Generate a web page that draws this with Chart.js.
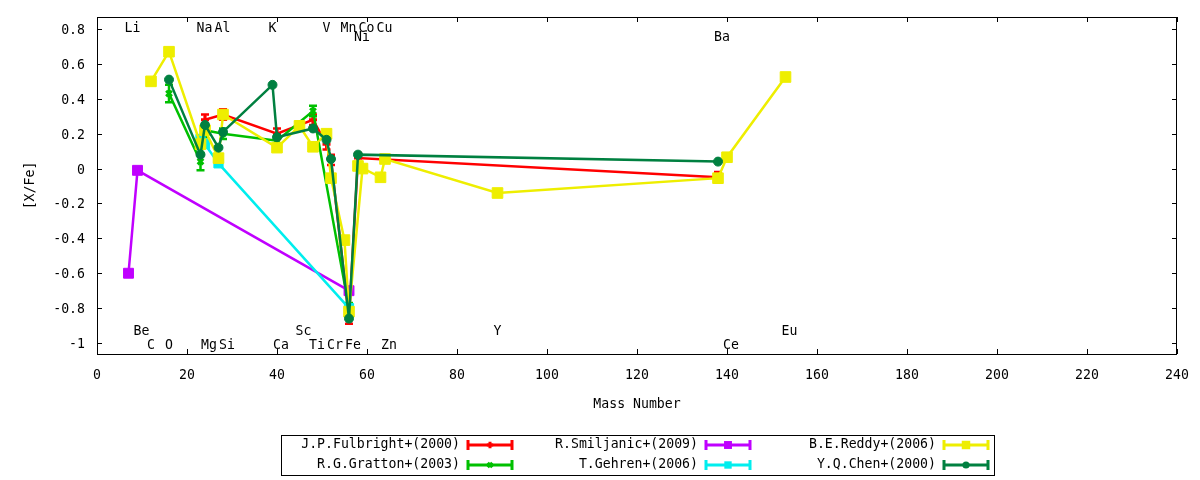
<!DOCTYPE html>
<html>
<head>
<meta charset="utf-8">
<script src="https://cdn.jsdelivr.net/npm/chart.js@4.4.0/dist/chart.umd.min.js"></script>
<style>
  html, body { margin: 0; padding: 0; background: #fff; }
  #wrap { width: 1200px; height: 480px; }
</style>
</head>
<body>
<div id="wrap"><canvas id="abundChart" width="1200" height="480"></canvas></div>
<script>
// Element labels (mass number of main isotope) and the label row they sit in
const elemNames = ['Li', 'Be', 'C', 'O', 'Na', 'Mg', 'Al', 'Si', 'K', 'Ca', 'Sc', 'Ti', 'V', 'Cr', 'Mn', 'Fe', 'Co', 'Ni', 'Cu', 'Zn', 'Y', 'Ba', 'Ce', 'Eu'];
const elemMass  = [7, 9, 12, 16, 23, 24, 27, 28, 39, 40, 45, 48, 51, 52, 55, 56, 59, 58, 63, 64, 89, 138, 140, 153];
const elemRow   = [0, 2, 3, 3, 0, 3, 0, 3, 0, 3, 2, 3, 0, 3, 0, 3, 0, 1, 0, 3, 2, 1, 3, 2];

// Axis ticks
const xTicks = [0, 20, 40, 60, 80, 100, 120, 140, 160, 180, 200, 220, 240];
const yTicks = [-1, -0.8, -0.6, -0.4, -0.2, 0, 0.2, 0.4, 0.6, 0.8];

// J.P.Fulbright+(2000)
const fulbrightMass = [24, 28, 40, 48, 51, 52, 56, 58, 138];
const fulbrightVal  = [0.28, 0.31, 0.20, 0.28, 0.14, 0.05, -0.86, 0.06, -0.05];
const fulbrightErr  = [0.03, 0.03, 0.03, 0.03, 0.03, 0.03, 0.03, 0.03, 0.03];

// R.G.Gratton+(2003)
const grattonMass = [16, 23, 24, 28, 40, 48, 56];
const grattonVal  = [0.43, 0.04, 0.22, 0.20, 0.16, 0.33, -0.80];
const grattonErr  = [0.05, 0.05, 0.04, 0.03, 0.03, 0.03, 0.03];

// R.Smiljanic+(2009)
const smiljanicMass = [7, 9, 56];
const smiljanicVal  = [-0.60, -0.01, -0.70];

// T.Gehren+(2006)
const gehrenMass = [23, 24, 27, 56];
const gehrenVal  = [0.17, 0.14, 0.03, -0.80];

// B.E.Reddy+(2006)
const reddyMass = [12, 16, 23, 24, 27, 28, 40, 45, 48, 51, 52, 55, 56, 59, 58, 63, 64, 89, 138, 140, 153];
const reddyVal  = [0.50, 0.67, 0.14, 0.22, 0.06, 0.31, 0.12, 0.245, 0.125, 0.20, -0.055, -0.41, -0.82, 0.00, 0.015, -0.05, 0.055, -0.14, -0.055, 0.065, 0.525];

// Y.Q.Chen+(2000)
const chenMass = [16, 23, 24, 27, 28, 39, 40, 48, 51, 52, 56, 58, 138];
const chenVal  = [0.51, 0.08, 0.25, 0.12, 0.21, 0.48, 0.18, 0.23, 0.165, 0.055, -0.86, 0.08, 0.04];

function toPoints(mass, val) {
    return mass.map((m, i) => ({ x: m, y: val[i] }));
}

const FONT = 'DejaVu Sans Mono';
const FONT_SIZE = 13.2;
Chart.defaults.font.family = FONT;
Chart.defaults.font.size = FONT_SIZE;
Chart.defaults.color = '#000';

// series in gnuplot plot order (last one drawn on top)
const series = [
    { label: 'J.P.Fulbright+(2000)', mass: fulbrightMass, val: fulbrightVal, err: fulbrightErr, color: '#ff0000', style: 'cross', r: 4 },
    { label: 'R.G.Gratton+(2003)', mass: grattonMass, val: grattonVal, err: grattonErr, color: '#00c000', style: 'crossRot', r: 4 },
    { label: 'R.Smiljanic+(2009)', mass: smiljanicMass, val: smiljanicVal, color: '#c000ff', style: 'rect', r: 7 },
    { label: 'T.Gehren+(2006)', mass: gehrenMass, val: gehrenVal, color: '#00eeee', style: 'rect', r: 6.5 },
    { label: 'B.E.Reddy+(2006)', mass: reddyMass, val: reddyVal, color: '#eeee00', style: 'rect', r: 7.5 },
    { label: 'Y.Q.Chen+(2000)', mass: chenMass, val: chenVal, color: '#008040', style: 'circle', r: 4.5 },
];

const datasets = series.map((s, i) => ({
    label: s.label,
    data: toPoints(s.mass, s.val),
    errors: s.err || null,
    showLine: true,
    borderColor: s.color,
    backgroundColor: s.color,
    borderWidth: 2.5,
    pointStyle: s.style,
    pointRadius: s.r,
    pointBorderWidth: (s.style === 'cross' || s.style === 'crossRot') ? 3 : 1,
    pointBorderColor: s.color,
    pointBackgroundColor: s.color,
    tension: 0,
    order: series.length - i,
}));

// own marker drawing for the key
function drawMarker(ctx, style, x, y, r, color) {
    ctx.fillStyle = color;
    ctx.strokeStyle = color;
    ctx.beginPath();
    if (style === 'rect') {
        const h = r * Math.SQRT1_2;
        ctx.rect(x - h, y - h, 2 * h, 2 * h);
        ctx.fill();
    } else if (style === 'circle') {
        ctx.arc(x, y, r, 0, Math.PI * 2);
        ctx.fill();
    } else if (style === 'cross') {
        ctx.lineWidth = 3;
        ctx.moveTo(x - r, y); ctx.lineTo(x + r, y);
        ctx.moveTo(x, y - r); ctx.lineTo(x, y + r);
        ctx.stroke();
    } else {
        ctx.lineWidth = 3;
        const d = r * Math.SQRT1_2;
        ctx.moveTo(x - d, y - d); ctx.lineTo(x + d, y + d);
        ctx.moveTo(x - d, y + d); ctx.lineTo(x + d, y - d);
        ctx.stroke();
    }
}

// element names written at their mass number
const elementLabels = {
    id: 'elementLabels',
    beforeDatasetsDraw(chart) {
        const { ctx, scales: { x, y } } = chart;
        const rowY = [0.805, 0.75, -0.935, -1.015];
        ctx.save();
        ctx.font = FONT_SIZE + 'px "' + FONT + '"';
        ctx.fillStyle = '#000';
        ctx.textAlign = 'left';
        ctx.textBaseline = 'middle';
        const half = ctx.measureText('M').width / 2;
        elemNames.forEach((name, i) => {
            ctx.fillText(name, x.getPixelForValue(elemMass[i]) - half, y.getPixelForValue(rowY[elemRow[i]]));
        });
        ctx.restore();
    }
};

// vertical error bars with caps, drawn right after each dataset
const errorBars = {
    id: 'errorBars',
    afterDatasetDraw(chart, args) {
        const ds = chart.data.datasets[args.index];
        if (!ds.errors) return;
        const { ctx, scales: { x, y } } = chart;
        ctx.save();
        ctx.strokeStyle = ds.borderColor;
        ctx.lineWidth = 2.5;
        ctx.beginPath();
        ds.data.forEach((p, i) => {
            const px = x.getPixelForValue(p.x);
            const y0 = y.getPixelForValue(p.y - ds.errors[i]);
            const y1 = y.getPixelForValue(p.y + ds.errors[i]);
            ctx.moveTo(px, y0); ctx.lineTo(px, y1);
            ctx.moveTo(px - 4, y0); ctx.lineTo(px + 4, y0);
            ctx.moveTo(px - 4, y1); ctx.lineTo(px + 4, y1);
        });
        ctx.stroke();
        ctx.restore();
    }
};

// gnuplot style border with inward ticks on all four sides
const frame = {
    id: 'frame',
    afterDraw(chart) {
        const { ctx, chartArea: a, scales: { x, y } } = chart;
        const tl = 5;
        ctx.save();
        ctx.strokeStyle = '#000';
        ctx.lineWidth = 1;
        ctx.strokeRect(a.left + 0.5, a.top + 0.5, a.right - a.left - 1, a.bottom - a.top);
        ctx.beginPath();
        x.ticks.forEach(t => {
            const px = Math.round(x.getPixelForValue(t.value)) + 0.5;
            ctx.moveTo(px, a.bottom); ctx.lineTo(px, a.bottom - tl);
            ctx.moveTo(px, a.top); ctx.lineTo(px, a.top + tl);
        });
        y.ticks.forEach(t => {
            const py = Math.round(y.getPixelForValue(t.value)) + 0.5;
            ctx.moveTo(a.left, py); ctx.lineTo(a.left + tl, py);
            ctx.moveTo(a.right, py); ctx.lineTo(a.right - tl, py);
        });
        ctx.stroke();
        ctx.restore();
    }
};

// boxed key below the plot, 3 columns x 2 rows
const keyBox = {
    id: 'keyBox',
    afterDraw(chart) {
        const { ctx, chartArea: a } = chart;
        const colW = 238, rows = 2;
        const boxW = colW * 3 - 1;
        const left = Math.round((a.left + a.right) / 2 - boxW / 2);
        const top = a.bottom + 81;
        ctx.save();
        ctx.strokeStyle = '#000';
        ctx.lineWidth = 1;
        ctx.strokeRect(left + 0.5, top + 0.5, boxW, 40);
        ctx.font = FONT_SIZE + 'px "' + FONT + '"';
        ctx.textAlign = 'right';
        ctx.textBaseline = 'middle';
        series.forEach((s, i) => {
            const col = Math.floor(i / rows), row = i % rows;
            const cy = top + 10 + row * 20;
            const tx = left + 179 + col * colW;
            const x0 = tx + 8, x1 = tx + 52;
            ctx.fillStyle = '#000';
            ctx.fillText(s.label, tx, cy);
            ctx.strokeStyle = s.color;
            ctx.lineWidth = 3;
            ctx.beginPath();
            ctx.moveTo(x0, cy); ctx.lineTo(x1, cy);
            ctx.moveTo(x0, cy - 5); ctx.lineTo(x0, cy + 5);
            ctx.moveTo(x1, cy - 5); ctx.lineTo(x1, cy + 5);
            ctx.stroke();
            drawMarker(ctx, s.style, (x0 + x1) / 2, cy, s.r * 0.8, s.color);
        });
        ctx.restore();
    }
};

const ctx = document.getElementById('abundChart').getContext('2d');
const abundChart = new Chart(ctx, {
    type: 'scatter',
    data: { datasets: datasets },
    options: {
        responsive: false,
        devicePixelRatio: 1,
        animation: false,
        layout: { padding: { top: 17, right: 23, left: 0, bottom: 0 } },
        plugins: {
            legend: { display: false },
            tooltip: { enabled: false },
        },
        scales: {
            x: {
                type: 'linear',
                min: 0,
                max: 240,
                grid: { display: false, drawTicks: false },
                border: { display: false },
                afterBuildTicks: scale => { scale.ticks = xTicks.map(v => ({ value: v })); },
                afterFit: scale => { scale.height = 126; scale.paddingLeft = 0; scale.paddingRight = 0; },
                ticks: { padding: 14, maxRotation: 0, autoSkip: false, callback: v => String(v) },
                title: { display: true, text: 'Mass Number', padding: { top: 0, bottom: 68 } },
            },
            y: {
                type: 'linear',
                min: -1.063,
                max: 0.869,
                grid: { display: false, drawTicks: false },
                border: { display: false },
                afterBuildTicks: scale => { scale.ticks = yTicks.map(v => ({ value: v })); },
                afterFit: scale => { scale.width = 97; scale.paddingTop = 0; scale.paddingBottom = 0; },
                ticks: { padding: 12, labelOffset: 1.5, autoSkip: false, callback: v => String(Math.round(v * 10) / 10) },
                title: { display: true, text: '[X/Fe]', padding: { top: 23, bottom: 0 } },
            },
        },
    },
    plugins: [elementLabels, errorBars, frame, keyBox],
});
</script>
</body>
</html>
